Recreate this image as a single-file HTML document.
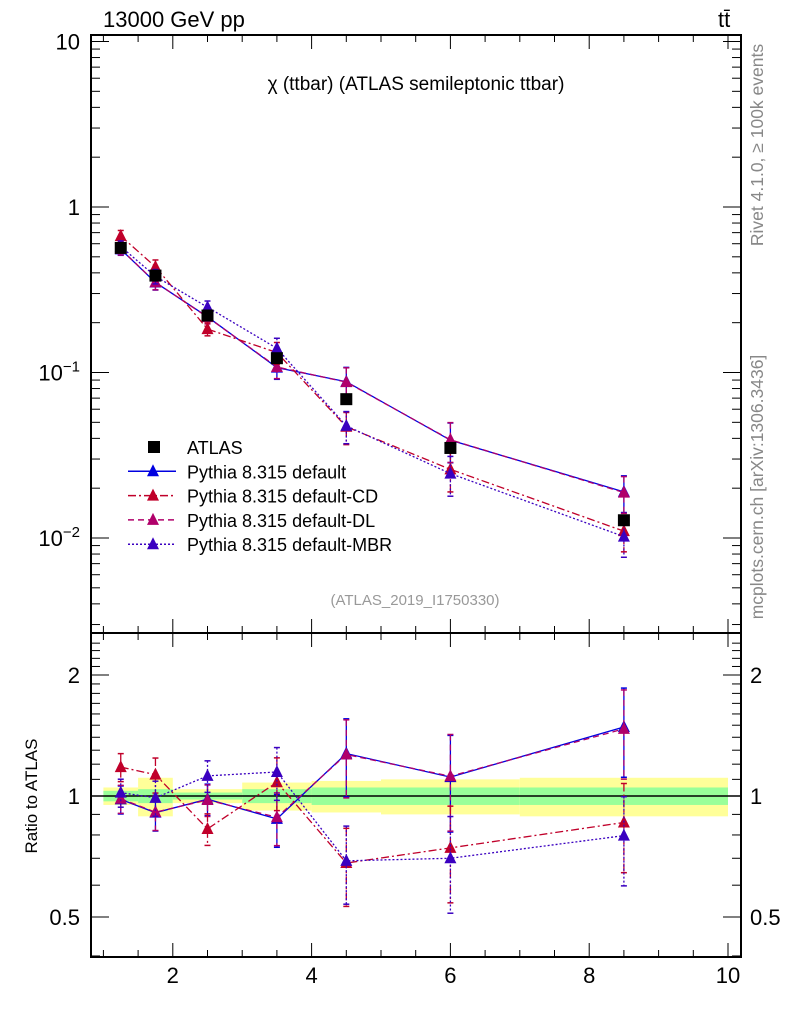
<!DOCTYPE html>
<html><head><meta charset="utf-8"><style>
body{margin:0;background:#fff;width:786px;height:1024px;overflow:hidden}
svg{font-family:"Liberation Sans",sans-serif}
</style></head><body>
<svg id="c" width="786" height="1024" xmlns="http://www.w3.org/2000/svg"></svg>
<script>
const xPoints=[1.25,1.75,2.5,3.5,4.5,6,8.5];
const atlasVals=[0.566,0.385,0.221,0.122,0.069,0.035,0.0128];
const defaultVals=[0.555,0.350,0.217,0.107,0.088,0.039,0.019];
const dlVals=[0.557,0.351,0.216,0.108,0.0875,0.0392,0.0188];
const cdVals=[0.668,0.435,0.183,0.132,0.047,0.026,0.011];
const mbrVals=[0.577,0.381,0.248,0.140,0.0476,0.0245,0.0102];
const mcRelErr=[0.08,0.1,0.09,0.15,0.22,0.27,0.25];
const binEdges=[1,1.5,2,3,4,5,7,10];
const greenErr=[0.03,0.04,0.02,0.04,0.05,0.05,0.05];
const yellowErr=[0.05,0.11,0.04,0.08,0.09,0.1,0.11];
const xTicks=[2,4,6,8,10];

const NS="http://www.w3.org/2000/svg";
const svg=document.getElementById('c');
function el(t,a,p){const e=document.createElementNS(NS,t);for(const k in a)e.setAttribute(k,a[k]);(p||svg).appendChild(e);return e;}
const X=v=>34+69.4*v;
const Y=v=>207-165.5*Math.log10(v);
const R=v=>796-402*Math.log10(v);
const L=91,Rt=741,T=35,M=633,B=957;

const bands=el('g',{});


for(let i=0;i<binEdges.length-1;i++){
  el('rect',{x:X(binEdges[i]),y:R(1+yellowErr[i]),width:X(binEdges[i+1])-X(binEdges[i]),height:R(1-yellowErr[i])-R(1+yellowErr[i]),fill:'#ffff99'},bands);
  el('rect',{x:X(binEdges[i]),y:R(1+greenErr[i]),width:X(binEdges[i+1])-X(binEdges[i]),height:R(1-greenErr[i])-R(1+greenErr[i]),fill:'#99ff99'},bands);
}
el('line',{x1:L,x2:Rt,y1:R(1),y2:R(1),stroke:'#000','stroke-width':1.5});

const f1=el('rect',{x:L,y:T,width:Rt-L,height:M-T,fill:'none',stroke:'#000','stroke-width':2});

const f2=el('rect',{x:L,y:M,width:Rt-L,height:B-M,fill:'none',stroke:'#000','stroke-width':2});


for(let v=1;v<=10.01;v+=0.5){
  const maj=Math.abs(v-Math.round(v))<0.01&&Math.round(v)%2==0;
  const len=maj?14:7;
  el('line',{x1:X(v),x2:X(v),y1:B,y2:B-len,stroke:'#000'});
  el('line',{x1:X(v),x2:X(v),y1:M,y2:M-len,stroke:'#000'});
  el('line',{x1:X(v),x2:X(v),y1:T,y2:T+len,stroke:'#000'});
  el('line',{x1:X(v),x2:X(v),y1:M,y2:M+len,stroke:'#000'});
}
xTicks.forEach(v=>{const t=el('text',{x:X(v),y:983,'font-size':22,'text-anchor':'middle'});t.textContent=v;
});

for(let d=-3;d<=1;d++){for(let m=1;m<=9;m++){const v=m*Math.pow(10,d);const y=Y(v);if(y<T||y>M)continue;
 const len=m==1?18:9;
 el('line',{x1:L,x2:L+len,y1:y,y2:y,stroke:'#000'});el('line',{x1:Rt,x2:Rt-len,y1:y,y2:y,stroke:'#000'});}}
const ylab=[[10,'10',''],[1,'1',''],[0.1,'10','−1'],[0.01,'10','−2']];
ylab.forEach(a=>{const t=el('text',{x:80,y:Y(a[0])+8,'font-size':22,'text-anchor':'end'});
 
 if(a[2]){t.textContent=a[1];const s=el('tspan',{dy:-9,'font-size':15},t);s.textContent=a[2];}else t.textContent=a[1];});

for(let v=0.4;v<=2.5;v+=0.1){const y=R(v);if(y<M||y>B)continue;const maj=[0.5,1,2].some(q=>Math.abs(q-v)<0.01);const len=maj?18:9;
 el('line',{x1:L,x2:L+len,y1:y,y2:y,stroke:'#000'});el('line',{x1:Rt,x2:Rt-len,y1:y,y2:y,stroke:'#000'});}
[[2,'2'],[1,'1'],[0.5,'0.5']].forEach(a=>{
 const t=el('text',{x:80,y:R(a[0])+8,'font-size':22,'text-anchor':'end'});t.textContent=a[1];
 
 const t2=el('text',{x:750,y:R(a[0])+8,'font-size':22});t2.textContent=a[1];
 });

const series=[
 {name:'default',vals:defaultVals,col:'#0000e0',dash:''},
 {name:'default-DL',vals:dlVals,col:'#b0006a',dash:'6,4'},
 {name:'default-CD',vals:cdVals,col:'#c0002a',dash:'8,3,2,3'},
 {name:'default-MBR',vals:mbrVals,col:'#3a00c0',dash:'2,2'}
];
function tri(g,x,y,c){el('polygon',{points:`${x},${y-7} ${x-6},${y+5} ${x+6},${y+5}`,fill:c},g);}
series.forEach(s=>{
 const g=el('g',{});
 const gr=el('g',{});
 el('polyline',{points:xPoints.map((x,i)=>X(x)+','+Y(s.vals[i])).join(' '),fill:'none',stroke:s.col,'stroke-width':1.3,'stroke-dasharray':s.dash},g);
 el('polyline',{points:xPoints.map((x,i)=>X(x)+','+R(s.vals[i]/atlasVals[i])).join(' '),fill:'none',stroke:s.col,'stroke-width':1.3,'stroke-dasharray':s.dash},gr);
 xPoints.forEach((x,i)=>{const v=s.vals[i],e=mcRelErr[i],r=v/atlasVals[i];
  el('line',{x1:X(x),x2:X(x),y1:Y(v*(1+e)),y2:Y(v*(1-e)),stroke:s.col,'stroke-width':1.3,'stroke-dasharray':s.dash},g);
  el('line',{x1:X(x)-3,x2:X(x)+3,y1:Y(v*(1+e)),y2:Y(v*(1+e)),stroke:s.col,'stroke-width':1.5},g);
  el('line',{x1:X(x)-3,x2:X(x)+3,y1:Y(v*(1-e)),y2:Y(v*(1-e)),stroke:s.col,'stroke-width':1.5},g);
  tri(g,X(x),Y(v),s.col);
  el('line',{x1:X(x),x2:X(x),y1:R(r*(1+e)),y2:R(Math.max(r*(1-e),0.3)),stroke:s.col,'stroke-width':1.3,'stroke-dasharray':s.dash},gr);
  el('line',{x1:X(x)-3,x2:X(x)+3,y1:R(r*(1+e)),y2:R(r*(1+e)),stroke:s.col,'stroke-width':1.5},gr);
  el('line',{x1:X(x)-3,x2:X(x)+3,y1:R(r*(1-e)),y2:R(r*(1-e)),stroke:s.col,'stroke-width':1.5},gr);
  tri(gr,X(x),R(r),s.col);
 });
});
const ga=el('g',{});
xPoints.forEach((x,i)=>{el('rect',{x:X(x)-6,y:Y(atlasVals[i])-6,width:12,height:12,fill:'#000'},ga);});

const leg=[['ATLAS','#000','',true],['Pythia 8.315 default','#0000e0',''],['Pythia 8.315 default-CD','#c0002a','8,3,2,3'],['Pythia 8.315 default-DL','#b0006a','6,4'],['Pythia 8.315 default-MBR','#3a00c0','2,2']];
leg.forEach((l,i)=>{const y=447+i*24.3;const g=el('g',{});
 if(l[3])el('rect',{x:148,y:y-6,width:12,height:12,fill:'#000'},g);
 else{el('line',{x1:128,x2:176,y1:y,y2:y,stroke:l[1],'stroke-width':1.5,'stroke-dasharray':l[2]},g);tri(g,153,y,l[1]);}
 const t=el('text',{x:187,y:y+7,'font-size':18},g);t.textContent=l[0];});

function txt(x,y,s,str,attrs,name){const t=el('text',Object.assign({x:x,y:y,'font-size':s},attrs||{}));t.textContent=str;return t;}
txt(103,27,22,'13000 GeV pp',{},'energy-label');
txt(718,27,22,'tt̄',{},'process-label');
txt(416,90,19,'χ (ttbar) (ATLAS semileptonic ttbar)',{'text-anchor':'middle'},'plot-title');
txt(415,605,15,'(ATLAS_2019_I1750330)',{'text-anchor':'middle',fill:'#999'},'analysis-id');
txt(0,0,17.5,'Rivet 4.1.0, ≥ 100k events',{transform:'translate(763,145) rotate(-90)','text-anchor':'middle',fill:'#888'},'rivet-label');
txt(0,0,17.5,'mcplots.cern.ch [arXiv:1306.3436]',{transform:'translate(763,487) rotate(-90)','text-anchor':'middle',fill:'#888'},'mcplots-label');
txt(0,0,17,'Ratio to ATLAS',{transform:'translate(37,796) rotate(-90)','text-anchor':'middle'},'ratio-y-axis-title');
</script>
</body></html>
